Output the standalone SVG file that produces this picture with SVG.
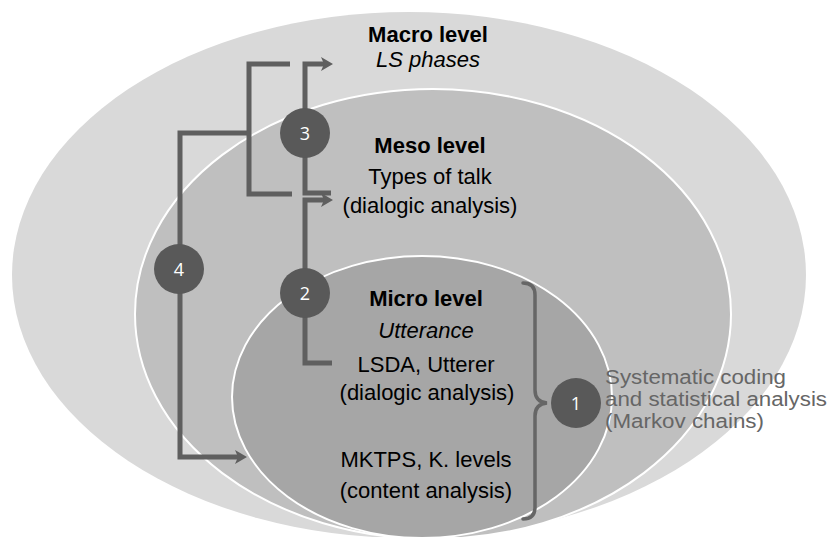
<svg xmlns="http://www.w3.org/2000/svg" width="829" height="537" viewBox="0 0 829 537">
<defs>
<style>
.lvl{stroke:#fff;stroke-width:2}
.t{font-family:"Liberation Sans",Arial,sans-serif;font-size:22px;fill:#000;text-anchor:middle}
.b{font-weight:bold}
.i{font-style:italic}
.side{font-family:"Liberation Sans",Arial,sans-serif;font-size:20px;fill:#666}
.conn{fill:none;stroke:#5f5f5f;stroke-width:5}
.brace{fill:none;stroke:#666;stroke-width:3.5;stroke-linecap:round}
.num circle{fill:#595959}
.num text{font-family:"Open Sans","Liberation Sans",sans-serif;font-size:18px;fill:#fff;text-anchor:middle}
</style>
<marker id="ah" markerUnits="userSpaceOnUse" markerWidth="14" markerHeight="16" viewBox="0 -8 14 16" refX="3" refY="0" orient="auto">
<path d="M0,-7 L12,0 L0,7 L3,0 z" fill="#5f5f5f"/>
</marker>
</defs>
<rect width="829" height="537" fill="#fff"/>
<g id="macro">
<ellipse cx="409" cy="275" rx="397" ry="263" fill="#d9d9d9"/>
<text class="t b" x="428" y="42">Macro level</text>
<text class="t i" x="428" y="67">LS phases</text>
</g>
<g id="meso">
<ellipse class="lvl" cx="433" cy="314" rx="298" ry="225" fill="#bfbfbf"/>
<text class="t b" x="430" y="153">Meso level</text>
<text class="t" x="430" y="184">Types of talk</text>
<text class="t" x="430" y="213">(dialogic analysis)</text>
</g>
<g id="micro">
<ellipse class="lvl" cx="422" cy="397" rx="190" ry="141" fill="#a6a6a6"/>
<text class="t b" x="426" y="306">Micro level</text>
<text class="t i" x="426" y="338">Utterance</text>
<text class="t" x="426" y="372">LSDA, Utterer</text>
<text class="t" x="427" y="400">(dialogic analysis)</text>
<text class="t" x="426" y="467">MKTPS, K. levels</text>
<text class="t" x="426" y="498">(content analysis)</text>
</g>
<g id="connectors">
<path class="conn" d="M331,193 H305 V64 H324" marker-end="url(#ah)"/>
<path class="conn" d="M332,363 H305 V200 H324" marker-end="url(#ah)"/>
<path class="conn" d="M290,64 H249 V194 H292"/>
<path class="conn" d="M249,133 H180 V457 H238" marker-end="url(#ah)"/>
<path class="brace" d="M523,283 Q535,283 535,295 V390 Q535,402 547,403 Q535,404 535,416 V507 Q535,519 523,519"/>
</g>
<g id="step3" class="num"><circle cx="305" cy="133" r="25"/><text x="305" y="139.5">3</text></g>
<g id="step2" class="num"><circle cx="305" cy="293" r="25"/><text x="305" y="299.5">2</text></g>
<g id="step4" class="num"><circle cx="179" cy="269" r="25"/><text x="179" y="275.5">4</text></g>
<g id="step1" class="num"><circle cx="576" cy="403" r="25"/><text x="576" y="409.5">1</text></g>
<g id="method">
<text class="side" x="605" y="384" textLength="181" lengthAdjust="spacingAndGlyphs">Systematic coding</text>
<text class="side" x="605" y="406" textLength="222" lengthAdjust="spacingAndGlyphs">and statistical analysis</text>
<text class="side" x="605" y="428" textLength="159" lengthAdjust="spacingAndGlyphs">(Markov chains)</text>
</g>
</svg>
